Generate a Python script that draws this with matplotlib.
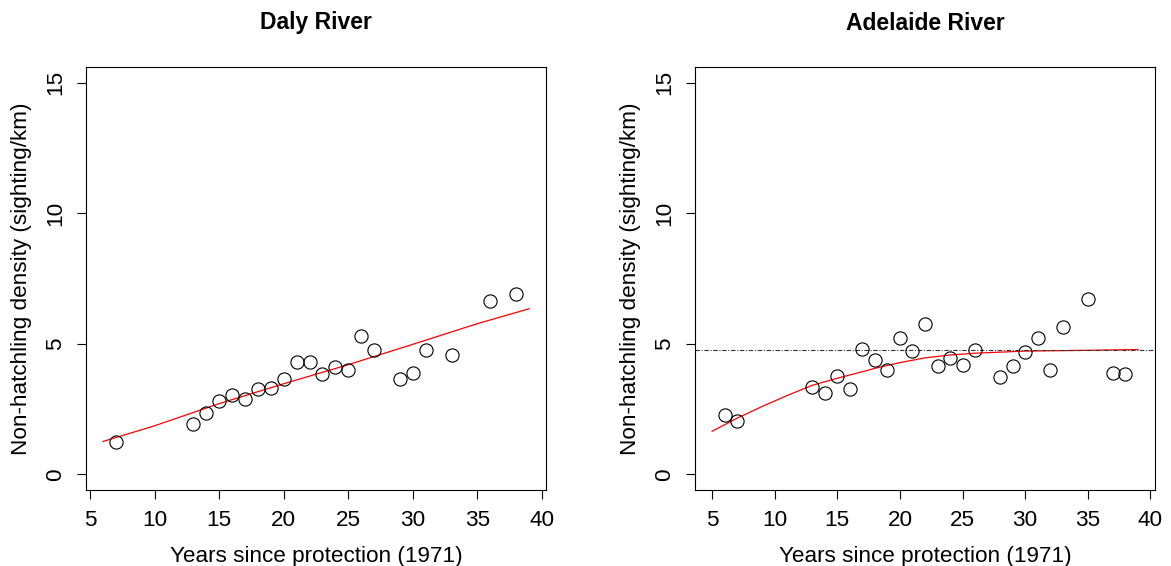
import matplotlib.pyplot as plt

plt.rcParams['font.family'] = ['Liberation Sans', 'DejaVu Sans']

# Daly River
daly_years = [7, 13, 14, 15, 16, 17, 18, 19, 20, 21, 22, 23, 24, 25, 26, 27,
              29, 30, 31, 33, 36, 38]
daly_density = [1.24, 1.94, 2.33, 2.81, 3.05, 2.88, 3.28, 3.32, 3.66, 4.29,
                4.30, 3.84, 4.12, 3.99, 5.29, 4.78, 3.64, 3.87, 4.75, 4.58,
                6.62, 6.89]
daly_fit_x = [6, 10, 15, 20, 25, 30, 35, 39]
daly_fit_y = [1.26, 1.86, 2.71, 3.47, 4.20, 4.98, 5.77, 6.34]

# Adelaide River
adel_years = [6, 7, 13, 14, 15, 16, 17, 18, 19, 20, 21, 22, 23, 24, 25, 26,
              28, 29, 30, 31, 32, 33, 35, 37, 38]
adel_density = [2.28, 2.03, 3.34, 3.11, 3.78, 3.25, 4.81, 4.36, 4.01, 5.22,
                4.72, 5.77, 4.13, 4.45, 4.18, 4.75, 3.71, 4.16, 4.68, 5.24,
                3.99, 5.64, 6.72, 3.90, 3.84]
adel_fit_x = [5, 7, 9, 11, 13, 15, 17, 18, 20, 22, 24, 26, 30, 35, 39]
adel_fit_y = [1.65, 2.15, 2.60, 3.02, 3.41, 3.68, 3.93, 4.06, 4.28, 4.46, 4.57,
              4.64, 4.72, 4.75, 4.78]
adel_level = 4.78

panels = [
    ("Daly River", daly_years, daly_density, daly_fit_x, daly_fit_y, None, (4.68, 40.32)),
    ("Adelaide River", adel_years, adel_density, adel_fit_x, adel_fit_y, adel_level, (3.64, 40.36)),
]

fig = plt.figure(figsize=(11.71, 5.66), dpi=100)
lefts = [86 / 1171, 695 / 1171]
width = 460 / 1171
bottom = 1 - 490 / 566
height = (490 - 67) / 566
fs = 16.2

for (title, x, y, fx, fy, level, xlim), left in zip(panels, lefts):
    ax = fig.add_axes([left, bottom, width, height])
    ax.plot(x, y, 'o', ms=9.5, mfc='none', mec='black', mew=0.8, zorder=3)
    ax.plot(fx, fy, color='red', lw=0.9)
    if level is not None:
        ax.axhline(level, color='#333333', lw=0.8, dashes=(4, 1.5, 1, 1.5))
    ax.set_xlim(*xlim)
    ax.set_ylim(-0.6, 15.6)
    ax.set_xticks(range(5, 41, 5))
    ax.set_yticks([0, 5, 10, 15])
    ax.tick_params(direction='out', length=6.5, width=0.8, labelsize=fs, pad=8)
    plt.setp(ax.get_yticklabels(), rotation=90, va='center')
    for s in ax.spines.values():
        s.set_linewidth(0.8)
    ax.set_xlabel("Years since protection (1971)", fontsize=fs, labelpad=11)
    ax.set_ylabel("Non-hatchling density (sighting/km)", fontsize=fs, labelpad=9)
    ax.set_title(title, fontsize=16.5, fontweight='bold', pad=27)

fig.savefig("out.png", dpi=100)
